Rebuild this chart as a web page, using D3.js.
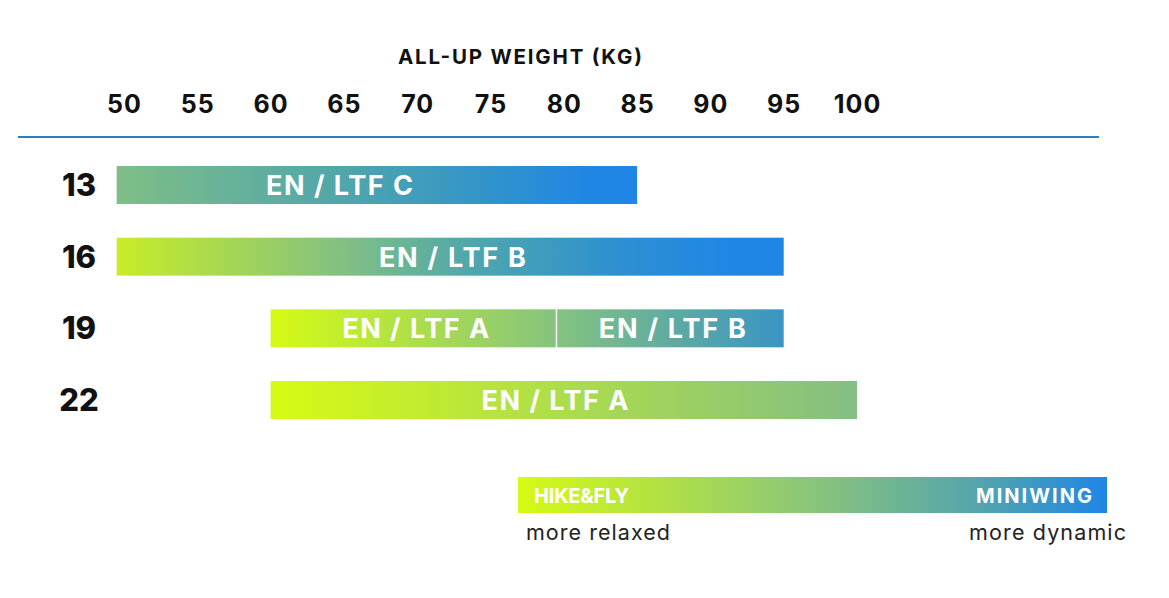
<!DOCTYPE html>
<html>
<head>
<meta charset="utf-8">
<script src="https://cdn.jsdelivr.net/npm/d3@7"></script>
<style>
  html, body { margin: 0; padding: 0; background: #fff; }
  svg { display: block; font-family: Inter, "Open Sans", "DejaVu Sans", sans-serif; }
</style>
</head>
<body>
<svg id="chart" width="1169" height="598"></svg>
<script>
// ---------- data ----------
const axisTitle = "ALL-UP WEIGHT (KG)";
const tickValues = [50, 55, 60, 65, 70, 75, 80, 85, 90, 95, 100];
const rows = ["13", "16", "19", "22"];

// weight-range segments (kg)
const segRow    = ["13", "16", "19", "19", "22"];
const segStart  = [49.5, 49.5, 60, 79.5, 60];
const segEnd    = [85, 95, 79.5, 95, 100];
const segLabel  = ["EN / LTF C", "EN / LTF B", "EN / LTF A", "EN / LTF B", "EN / LTF A"];
const segLabelKg = [64.7, 72.4, 69.9, 87.4, 79.4]; // label anchor, in kg

const legendLeftTitle = "HIKE&FLY";
const legendRightTitle = "MINIWING";
const legendLeftNote = "more relaxed";
const legendRightNote = "more dynamic";

// ---------- styles ----------
const rowGradients = {
  "13": [[0, "#7fbe87"], [0.45, "#4ea5ac"], [0.75, "#2e91d0"], [0.92, "#1f86e6"], [1, "#1f86e6"]],
  "16": [[0, "#c8ed27"], [0.34, "#82c083"], [0.54, "#4da6ad"], [0.75, "#2e90d0"], [0.92, "#1f86e6"], [1, "#1f86e6"]],
  "19": [[0, "#d6fb13"], [0.55, "#86c47e"], [1, "#3a94c4"]],
  "22": [[0, "#d6fb13"], [1, "#84be84"]]
};
const legendStops = [[0, "#d6fb13"], [0.5, "#8ac57b"], [0.8, "#4fa3b0"], [1, "#1f86e6"]];

const svg = d3.select("#chart");
const defs = svg.append("defs");

const x = d3.scaleLinear().domain([50, 100]).range([124, 857]);
const y = d3.scalePoint().domain(rows).range([185, 400]);
const barH = 38;

// title
svg.append("text")
  .attr("x", 520).attr("y", 64)
  .attr("text-anchor", "middle")
  .attr("font-size", 20.5).attr("font-weight", 700).attr("fill", "#111")
  .attr("textLength", 244).attr("lengthAdjust", "spacing")
  .text(axisTitle);

// top axis (tick labels)
const axisG = svg.append("g")
  .attr("transform", "translate(0,113)")
  .call(d3.axisTop(x).tickValues(tickValues).tickSize(0).tickPadding(0).tickFormat(d3.format("d")));
axisG.select(".domain").remove();
axisG.selectAll("text")
  .attr("font-family", "Inter, \"Open Sans\", sans-serif")
  .attr("font-size", 25).attr("font-weight", 700).attr("fill", "#111")
  .attr("letter-spacing", 1);

// separator line
svg.append("line")
  .attr("x1", 18).attr("x2", 1099).attr("y1", 137).attr("y2", 137)
  .attr("stroke", "#2a80b9").attr("stroke-width", 2);

// gradients per row (spanning full row extent)
rows.forEach(r => {
  const idx = segRow.map((d, i) => i).filter(i => segRow[i] === r);
  const lo = d3.min(idx, i => segStart[i]);
  const hi = d3.max(idx, i => segEnd[i]);
  const g = defs.append("linearGradient")
    .attr("id", "grad" + r)
    .attr("gradientUnits", "userSpaceOnUse")
    .attr("x1", x(lo)).attr("x2", x(hi)).attr("y1", 0).attr("y2", 0);
  g.selectAll("stop").data(rowGradients[r]).join("stop")
    .attr("offset", d => d[0]).attr("stop-color", d => d[1]);
});

// row labels
svg.append("g").selectAll("text").data(rows).join("text")
  .attr("x", 79).attr("y", d => y(d) + 11)
  .attr("text-anchor", "middle")
  .attr("font-size", 31).attr("font-weight", 800).attr("fill", "#111")
  .text(d => d);

// bars
const segs = segRow.map((r, i) => ({ r, s: segStart[i], e: segEnd[i], label: segLabel[i], lx: segLabelKg[i] }));
svg.append("g").selectAll("rect").data(segs).join("rect")
  .attr("x", d => x(d.s))
  .attr("y", d => y(d.r) - barH / 2)
  .attr("width", d => x(d.e) - x(d.s))
  .attr("height", barH)
  .attr("fill", d => "url(#grad" + d.r + ")");

// white separators where one segment starts where another ends in same row
const splits = segs.filter(d => segs.some(o => o.r === d.r && o.e === d.s));
svg.append("g").selectAll("line").data(splits).join("line")
  .attr("x1", d => x(d.s)).attr("x2", d => x(d.s))
  .attr("y1", d => y(d.r) - barH / 2).attr("y2", d => y(d.r) + barH / 2)
  .attr("stroke", "#fff").attr("stroke-width", 1.5);

// bar labels
svg.append("g").selectAll("text").data(segs).join("text")
  .attr("x", d => x(d.lx)).attr("y", d => y(d.r) + 10)
  .attr("text-anchor", "middle")
  .attr("font-size", 27).attr("font-weight", 700).attr("fill", "#fff")
  .attr("textLength", 147).attr("lengthAdjust", "spacing")
  .text(d => d.label);

// legend
const lg = defs.append("linearGradient").attr("id", "gradLegend")
  .attr("x1", 0).attr("x2", 1).attr("y1", 0).attr("y2", 0);
lg.selectAll("stop").data(legendStops).join("stop")
  .attr("offset", d => d[0]).attr("stop-color", d => d[1]);

const L = { x0: 518, x1: 1107, y0: 477, y1: 513 };
svg.append("rect")
  .attr("x", L.x0).attr("y", L.y0).attr("width", L.x1 - L.x0).attr("height", L.y1 - L.y0)
  .attr("fill", "url(#gradLegend)");
svg.append("text")
  .attr("x", 534).attr("y", 503)
  .attr("font-size", 20).attr("font-weight", 700).attr("fill", "#fff")
  .attr("textLength", 95).attr("lengthAdjust", "spacing")
  .text(legendLeftTitle);
svg.append("text")
  .attr("x", 1092).attr("y", 503).attr("text-anchor", "end")
  .attr("font-size", 20).attr("font-weight", 700).attr("fill", "#fff")
  .attr("textLength", 116).attr("lengthAdjust", "spacing")
  .text(legendRightTitle);
svg.append("text")
  .attr("x", 526).attr("y", 540)
  .attr("font-size", 21.5).attr("font-weight", 400).attr("fill", "#222")
  .attr("textLength", 144).attr("lengthAdjust", "spacing")
  .text(legendLeftNote);
svg.append("text")
  .attr("x", 1126).attr("y", 540).attr("text-anchor", "end")
  .attr("font-size", 21.5).attr("font-weight", 400).attr("fill", "#222")
  .attr("textLength", 157).attr("lengthAdjust", "spacing")
  .text(legendRightNote);
</script>
</body>
</html>
